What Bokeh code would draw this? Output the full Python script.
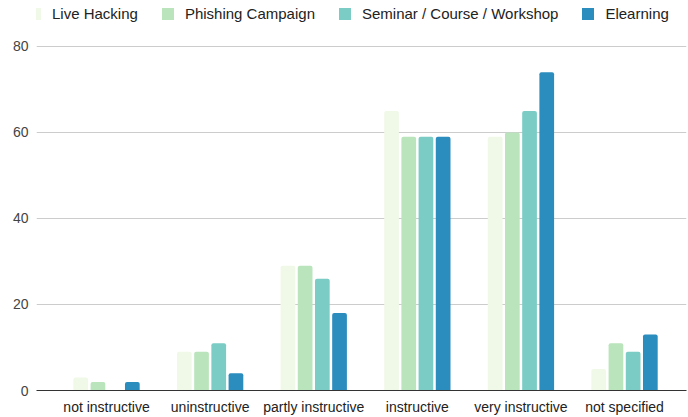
from bokeh.plotting import figure
from bokeh.models import ColumnDataSource, Legend, LegendItem, Range1d, FixedTicker
from bokeh.embed import file_html
from bokeh.resources import INLINE

categories = ["not instructive", "uninstructive", "partly instructive", "instructive", "very instructive", "not specified"]
series_names = ["Live Hacking", "Phishing Campaign", "Seminar / Course / Workshop", "Elearning"]
live_hacking = [3, 9, 29, 65, 59, 5]
phishing_campaign = [2, 9, 29, 59, 60, 11]
seminar_course_workshop = [0, 11, 26, 59, 65, 9]
elearning = [2, 4, 18, 59, 74, 13]
y_ticks = [0, 20, 40, 60, 80]

series_values = [live_hacking, phishing_campaign, seminar_course_workshop, elearning]
colors = ["#f0f9e8", "#bae4bc", "#7bccc4", "#2b8cbe"]
offsets = [-0.249, -0.083, 0.083, 0.249]
bar_width = 0.142

centers = [i + 0.5 for i in range(len(categories))]

FONT = "Liberation Sans"

p = figure(x_range=Range1d(-0.176, 6.098),
           y_range=Range1d(0, 90.67),
           width=688, height=417,
           output_backend="svg", toolbar_location=None)
p.outline_line_color = None
p.min_border_top = 0
p.min_border_left = 36
p.min_border_right = 2
p.min_border_bottom = 0

renderers = []
for vals, c, off in zip(series_values, colors, offsets):
    src = ColumnDataSource(dict(x=[cx + off for cx in centers], top=vals))
    r = p.vbar(x="x", top="top", width=bar_width, source=src,
               fill_color=c, line_color=None, border_radius=(2, 2, 0, 0))
    renderers.append(r)

legend = Legend(items=[LegendItem(label=n, renderers=[r]) for n, r in zip(series_names, renderers)],
                orientation="horizontal", location=(-9, 368),
                label_text_font=FONT, label_text_font_size="15px", label_text_color="#222222",
                glyph_width=15, glyph_height=15, label_standoff=10, spacing=22,
                label_height=15, padding=0, margin=0,
                border_line_color=None, background_fill_alpha=0)
p.add_layout(legend)

p.xgrid.grid_line_color = None
p.ygrid.grid_line_color = "#cccccc"
p.ygrid.ticker = FixedTicker(ticks=y_ticks)

p.yaxis.ticker = FixedTicker(ticks=y_ticks)
p.yaxis.axis_line_color = None
p.yaxis.major_tick_line_color = None
p.yaxis.minor_tick_line_color = None
p.yaxis.major_tick_out = 0
p.yaxis.minor_tick_out = 0
p.yaxis.major_label_text_font = FONT
p.yaxis.major_label_text_font_size = "14px"
p.yaxis.major_label_text_color = "#444444"
p.yaxis.major_label_standoff = 8

p.xaxis.ticker = FixedTicker(ticks=centers)
p.xaxis.major_label_overrides = {cx: lab for cx, lab in zip(centers, categories)}
p.xaxis.axis_line_color = "#333333"
p.xaxis.axis_line_width = 1.2
p.xaxis.major_tick_line_color = None
p.xaxis.minor_tick_line_color = None
p.xaxis.major_tick_out = 0
p.xaxis.minor_tick_out = 0
p.xaxis.major_label_text_font = FONT
p.xaxis.major_label_text_font_size = "14px"
p.xaxis.major_label_text_color = "#222222"
p.xaxis.major_label_standoff = 8

open("out.html", "w").write(file_html(p, INLINE))
